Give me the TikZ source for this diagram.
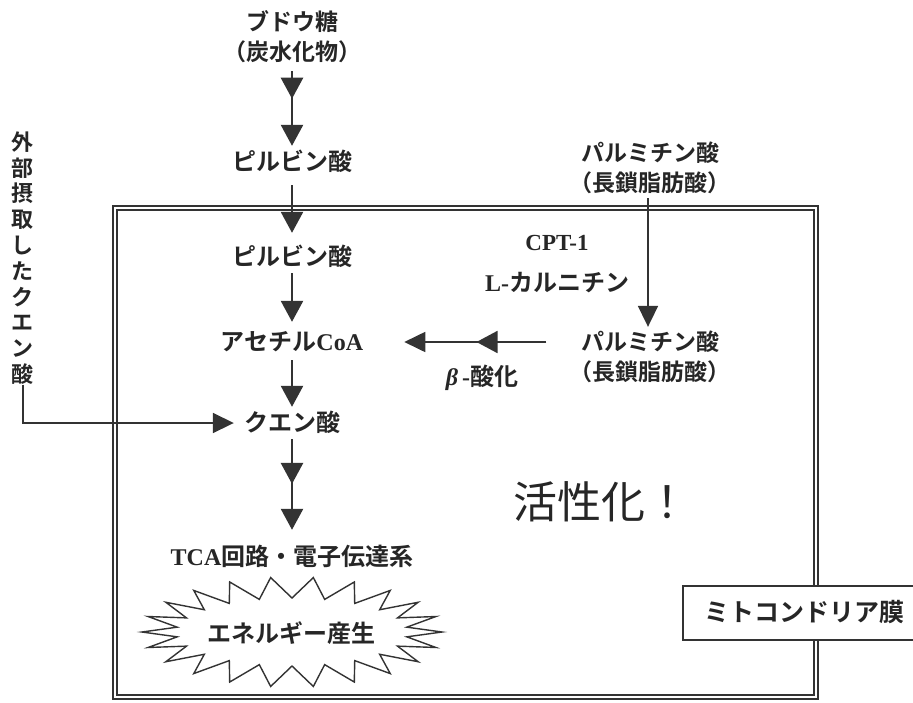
\documentclass[tikz,border=0pt]{standalone}
\usepackage{fontspec}
\setmainfont{Liberation Serif}
\newfontfamily\jp{Noto Sans CJK JP}[BoldFont={Noto Sans CJK JP Bold}]
\newfontfamily\lat{Liberation Serif}
\usetikzlibrary{arrows.meta,decorations.markings}
\newcommand{\LB}[1]{{\lat\bfseries #1}}
\begin{document}
\begin{tikzpicture}[x=1pt,y=-1pt,
  lbl/.style={font=\jp\bfseries\fontsize{24}{30}\selectfont, text=black!85, inner xsep=1pt, inner ysep=4pt, text height=20pt, text depth=4pt, align=center},
  twol/.style={font=\jp\bfseries\fontsize{23}{30}\selectfont, text=black!85, inner xsep=1pt, inner ysep=4pt, align=center},
  flow/.style={draw=black!80, line width=2.6pt, -{Triangle[width=22pt,length=21pt]}},
  thin/.style={draw=black!80, line width=1.8pt, -{Triangle[width=20pt,length=21pt]}},
  midhead/.style={postaction={decorate}, decoration={markings, mark=at position #1 with {\arrow{Triangle[width=22pt,length=21pt]}}}},
  burst/.style={draw=black!80, line width=1.4pt, line join=miter},
  membrane/.style={draw=black!80, line width=1.7pt, double=white, double distance=1.8pt}
]
\useasboundingbox (0,0) rectangle (913,702);
\fill[white] (0,0) rectangle (913,702);

% mitochondrial membrane
\draw[membrane] (115,208) rectangle (816,697);

% nodes
\node[twol] (glu) at (292,37) {ブドウ糖\\（炭水化物）};
\node[lbl] (pyr1) at (292,162) {ピルビン酸};
\node[lbl] (pyr2) at (292,257) {ピルビン酸};
\node[lbl] (acoa) at (292,342) {アセチル\LB{CoA}};
\node[lbl] (cit) at (292,423) {クエン酸};
\node[lbl] (tca) at (292,557) {\LB{TCA}回路・電子伝達系};
\node[twol] (palm1) at (650,168) {パルミチン酸\\（長鎖脂肪酸）};
\node[twol] (palm2) at (650,357) {パルミチン酸\\（長鎖脂肪酸）};
\node[lbl, font=\lat\bfseries\fontsize{23}{28}\selectfont] (cpt) at (557,242) {CPT-1};
\node[lbl] (carn) at (557,283) {\LB{L-}カルニチン};
\node[lbl] (beta) at (482,377) {\LB{\itshape β}\,\LB{-}酸化};
\node[lbl, font=\jp\fontsize{44}{50}\selectfont, text height=36pt, text depth=6pt] (kassei) at (601,503) {活性化！};
\node[font=\jp\bfseries\fontsize{22}{25.8}\selectfont, text=black!85, align=center, inner sep=0pt] (ext) at (23,258) {外\\部\\摂\\取\\し\\た\\ク\\エ\\ン\\酸};

% starburst
\draw[burst, fill=white] plot[domain=0:43, samples=44, variable=\i]
  ({292+(150-34*mod(\i,2))*cos(\i*360/44)}, {632+(55-21*mod(\i,2))*sin(\i*360/44)}) -- cycle;
\node[lbl] (energy) at (291,634) {エネルギー産生};

% label box
\fill[white] (683,586) rectangle (913,640);
\draw[draw=black!80, line width=1.3pt] (913,586) -- (683,586) -- (683,640) -- (913,640);
\node[lbl, font=\jp\bfseries\fontsize{25}{30}\selectfont] (mito) at (804,613) {ミトコンドリア膜};

% connectors
\draw[flow, midhead=0.40, shorten <=4pt] (glu.south) -- (pyr1.north);
\draw[flow, shorten <=7pt, shorten >=8pt] (pyr1.south) -- (pyr2.north);
\draw[flow, shorten >=4pt] (pyr2.south) -- (acoa.north);
\draw[flow, shorten <=2pt] (acoa.south) -- (cit.north);
\draw[flow, midhead=0.44, shorten >=11pt] (cit.south) -- (tca.north);
\draw[thin] ([xshift=-2pt]palm1.south) -- ([xshift=-2pt]palm2.north);
\draw[thin, midhead=0.45, shorten <=22pt, shorten >=40pt] (acoa.east -| palm2.west) -- (acoa.east);
\draw[thin, shorten >=9pt] (ext.south) |- (cit.west);
\end{tikzpicture}
\end{document}
